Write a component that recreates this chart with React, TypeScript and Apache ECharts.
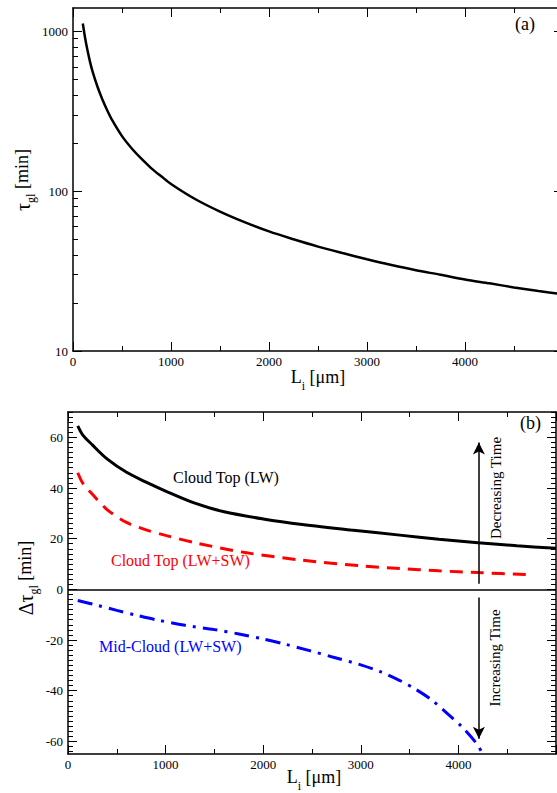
import React, { useEffect, useRef } from 'react';
import * as echarts from 'echarts';

const FONT = 'Liberation Serif';

// (a) growth time vs. crystal length
const tauLength = [100, 125, 150, 175, 200, 250, 300, 350, 400, 500, 600, 700, 800, 900, 1000, 1250, 1500, 1750, 2000, 2250, 2500, 2750, 3000, 3250, 3500, 3750, 4000, 4250, 4500, 4750, 5000];
const tauMinutes = [1120, 900, 750, 640, 560, 450, 375, 320, 278, 221, 185, 159, 139, 124, 111, 89, 74.5, 64, 56, 50, 45, 41, 37.5, 34.5, 32, 30, 28, 26.5, 25, 23.7, 22.6];

// (b) changes of growth time
const topLwLength = [100, 150, 250, 400, 600, 800, 1000, 1300, 1600, 2000, 2400, 2900, 3400, 3800, 4200, 4600, 5000];
const topLwDelta = [64.5, 61, 57, 51.5, 46.2, 42.3, 38.8, 34, 30.6, 27.8, 25.6, 23.4, 21.4, 19.8, 18.4, 17.2, 16.2];

const topLwSwLength = [100, 150, 250, 400, 600, 800, 1000, 1300, 1800, 2400, 3000, 3400, 3800, 4200, 4750];
const topLwSwDelta = [46, 42, 37.5, 31.5, 26.4, 23.5, 21.3, 18.4, 14.6, 11.5, 9.3, 8.2, 7.3, 6.6, 5.8];

const midLwSwLength = [100, 300, 500, 700, 900, 1200, 1500, 1750, 2000, 2200, 2475, 2700, 3000, 3200, 3400, 3560, 3735, 3890, 4040, 4175, 4240];
const midLwSwDelta = [-4.4, -6.3, -8.3, -10.2, -12, -14.2, -15.9, -17.6, -19.6, -21.4, -24.2, -26.6, -29.8, -32.5, -36, -39.4, -43.9, -49.2, -54.4, -60.3, -64.3];

// axes
const xTickLabels = [0, 1000, 2000, 3000, 4000];
const topYTickLabels = [10, 100, 1000];
const topYMinorTicks = [20, 30, 40, 50, 60, 70, 80, 90, 200, 300, 400, 500, 600, 700, 800, 900];
const bottomYTickLabels = [-60, -40, -20, 0, 20, 40, 60];

// annotation arrows (L position, start, end)
const arrowLength = 4210;
const upArrow = [2.2, 58];
const downArrow = [-3.2, -59];

const pairs = (xs: number[], ys: number[]) => xs.map((x, i) => [x, ys[i]]);

const bottomYMinorTicks: number[] = [];
for (let v = -64; v <= 70; v += 2) if (v % 20 !== 0) bottomYMinorTicks.push(v);

const AXIS_LINE = { show: true, onZero: false, lineStyle: { color: '#000', width: 1.5 } };
const LABEL = { color: '#000', fontSize: 13, fontFamily: FONT };

function xAxisCfg(gridIndex: number, position: string, showLabels: boolean) {
  return {
    type: 'value', gridIndex, position, min: 0, max: 5000, interval: 1000,
    axisLine: AXIS_LINE,
    axisTick: { show: true, inside: true, length: 9, lineStyle: { color: '#000', width: 1 } },
    minorTick: { show: true, splitNumber: 2, length: 5, lineStyle: { color: '#000', width: 1 } },
    splitLine: { show: false }, minorSplitLine: { show: false },
    axisLabel: {
      show: showLabels, margin: 4, ...LABEL,
      customValues: xTickLabels,
      formatter: (v: number) => String(v),
    },
  };
}

function topYCfg(position: string, major: boolean, labels: boolean) {
  return {
    type: 'log', logBase: 10, gridIndex: 0, position, min: 10, max: 1400,
    axisLine: major ? AXIS_LINE : { show: false, onZero: false },
    axisTick: major
      ? { show: true, inside: true, length: 9, customValues: topYTickLabels, lineStyle: { color: '#000', width: 1 } }
      : { show: true, inside: true, length: 5, customValues: topYMinorTicks, lineStyle: { color: '#000', width: 1 } },
    splitLine: { show: false },
    axisLabel: {
      show: labels, margin: 5, ...LABEL,
      customValues: topYTickLabels,
      formatter: (v: number) => String(Math.round(v)),
    },
  };
}

function bottomYCfg(position: string, major: boolean, labels: boolean) {
  return {
    type: 'value', gridIndex: 1, position, min: -65, max: 70,
    axisLine: major ? AXIS_LINE : { show: false, onZero: false },
    axisTick: major
      ? { show: true, inside: true, length: 9, customValues: bottomYTickLabels, lineStyle: { color: '#000', width: 1 } }
      : { show: true, inside: true, length: 5, customValues: bottomYMinorTicks, lineStyle: { color: '#000', width: 1 } },
    splitLine: { show: false },
    axisLabel: {
      show: labels, margin: 5, ...LABEL,
      customValues: bottomYTickLabels,
      formatter: (v: number) => String(v),
    },
  };
}

function plainText(x: number, y: number, text: string, size: number, color: string, rotate = false, align = 'left') {
  return {
    type: 'text', x, y, rotation: rotate ? Math.PI / 2 : 0, silent: true,
    style: { text, fontSize: size, fontFamily: FONT, fill: color, align, verticalAlign: 'middle' },
  };
}

const RICH = {
  m: { fontSize: 18, fontFamily: FONT, lineHeight: 20, verticalAlign: 'top', fill: '#000' },
  g: { fontSize: 20, fontFamily: FONT, lineHeight: 20, verticalAlign: 'top', fill: '#000' },
  s: { fontSize: 12, fontFamily: FONT, lineHeight: 10, padding: [12, 0, 0, 0], verticalAlign: 'top', fill: '#000' },
};

function richTitle(x: number, y: number, text: string, rotate: boolean) {
  return {
    type: 'text', x, y, rotation: rotate ? Math.PI / 2 : 0, silent: true,
    style: { text, rich: RICH, fill: '#000', align: 'center', verticalAlign: 'middle' },
  };
}

const lineSeries = (xi: number, yi: number, xs: number[], ys: number[], lineStyle: object) => ({
  type: 'line', xAxisIndex: xi, yAxisIndex: yi, data: pairs(xs, ys),
  showSymbol: false, symbol: 'none', smooth: 0.3,
  lineStyle, silent: true,
});

export default function App() {
  const ref = useRef<HTMLDivElement>(null);
  useEffect(() => {
    if (!ref.current) return;
    const chart = echarts.init(ref.current, null, { renderer: 'svg' });
    const topLw: any = lineSeries(2, 4, topLwLength, topLwDelta, { color: '#000', width: 3 });
    topLw.markLine = {
      silent: true, symbol: ['none', 'none'], label: { show: false },
      lineStyle: { color: '#000', type: 'solid', width: 1.5 },
      emphasis: { disabled: true },
      data: [
        { yAxis: 0 },
        [
          { coord: [arrowLength, upArrow[0]] },
          { coord: [arrowLength, upArrow[1]], symbol: 'arrow', symbolSize: [9, 12] },
        ],
        [
          { coord: [arrowLength, downArrow[0]] },
          { coord: [arrowLength, downArrow[1]], symbol: 'arrow', symbolSize: [9, 12] },
        ],
      ],
    };
    chart.setOption({
      animation: false,
      backgroundColor: '#fff',
      textStyle: { fontFamily: FONT },
      grid: [
        { left: 73, top: 8, right: -6, bottom: 442, containLabel: false, outerBoundsMode: 'none' },
        { left: 68, top: 412, right: 1, bottom: 39, containLabel: false, outerBoundsMode: 'none' },
      ],
      xAxis: [
        xAxisCfg(0, 'bottom', true),
        xAxisCfg(0, 'top', false),
        xAxisCfg(1, 'bottom', true),
        xAxisCfg(1, 'top', false),
      ],
      yAxis: [
        topYCfg('left', true, true),
        topYCfg('left', false, false),
        topYCfg('right', true, false),
        topYCfg('right', false, false),
        bottomYCfg('left', true, true),
        bottomYCfg('left', false, false),
        bottomYCfg('right', true, false),
        bottomYCfg('right', false, false),
      ],
      series: [
        lineSeries(0, 0, tauLength, tauMinutes, { color: '#000', width: 2.5 }),
        topLw,
        lineSeries(2, 4, topLwSwLength, topLwSwDelta, { color: '#ff0000', width: 3, type: [13, 8] }),
        lineSeries(2, 4, midLwSwLength, midLwSwDelta, { color: '#0000ff', width: 3, type: [15, 7, 3, 7] }),
      ],
      graphic: [
        plainText(515, 24, '(a)', 18, '#000'),
        plainText(520, 423, '(b)', 18, '#000'),
        plainText(173, 477, 'Cloud Top (LW)', 16, '#000'),
        plainText(111, 560, 'Cloud Top (LW+SW)', 16, '#ff0000'),
        plainText(99, 646, 'Mid-Cloud (LW+SW)', 16, '#0000ff'),
        plainText(496, 488, 'Decreasing Time', 15, '#000', true, 'center'),
        plainText(495, 658, 'Increasing Time', 15, '#000', true, 'center'),
        richTitle(318, 378, '{m|L}{s|i}{m| [μm]}', false),
        richTitle(314, 778, '{m|L}{s|i}{m| [μm]}', false),
        richTitle(23, 180, '{g|τ}{s|gl}{m| [min]}', true),
        richTitle(26, 578, '{g|Δτ}{s|gl}{m| [min]}', true),
      ],
    });
    return () => chart.dispose();
  }, []);
  return <div ref={ref} style={{ position: 'absolute', left: 0, top: 0, width: 557, height: 793 }} />;
}
